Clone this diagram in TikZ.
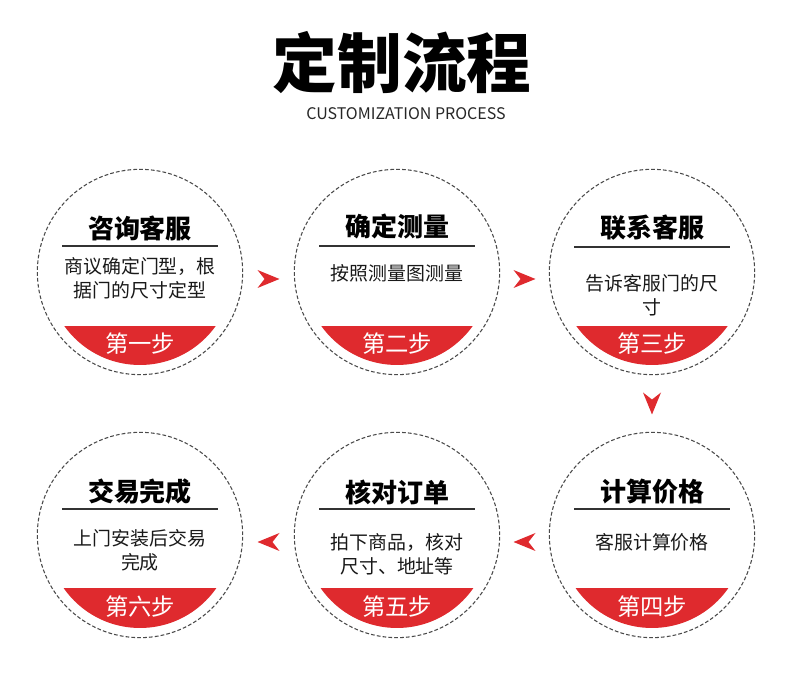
\documentclass[tikz,border=0pt]{standalone}
\usepackage{fontspec}
\setmainfont{Noto Sans CJK SC}
\usetikzlibrary{calc}
\usetikzlibrary{positioning}

\definecolor{stepred}{HTML}{DF2A2E}
\definecolor{ringgray}{HTML}{4A4A4A}

\begin{document}
\begin{tikzpicture}[
    x=0.75pt, y=-0.75pt,
    stepring/.style={circle, draw=ringgray, line width=0.8pt, dash pattern=on 2.8pt off 1.6pt, minimum size=154pt, inner sep=0pt},
    steptitle/.style={font=\fontsize{19.5}{22}\selectfont\bfseries, text=black, inner sep=0pt},
    stepbody/.style={font=\fontsize{14.2}{18}\selectfont, text=black!90, align=center, inner sep=0pt},
    steplabel/.style={font=\fontsize{17.5}{20}\selectfont, text=white, inner sep=0pt},
    rule/.style={line width=0.8pt, black!80},
    band/.style={fill=stepred},
    turnarrow/.pic={\fill[stepred] (11,0) -- (-11,-9) -- (-4,0) -- (-11,9) -- cycle;}
]
    \useasboundingbox (0,0) rectangle (790,691);

    % --- Heading
    \node[font=\fontsize{48.5}{52}\selectfont\bfseries, inner sep=0pt] (Head) at (402,63) {定制流程};
    \node[font=\fontsize{12}{14}\selectfont, text=black!85, inner sep=0pt] (Sub) at (406,114) {CUSTOMIZATION PROCESS};

    % --- Step 1 (Top left)
    \node[stepring] (C1) at (140,272) {};
    \begin{scope}
        \clip (C1.center) circle (69.75pt);
        \fill[band] ($(C1.center)+(-100,54)$) rectangle ($(C1.center)+(100,100)$);
    \end{scope}
    \node[steptitle] (T1) at ($(C1.center)+(0,-44)$) {咨询客服};
    \draw[rule] ($(C1.center)+(-78,-26)$) -- ($(C1.center)+(78,-26)$);
    \node[stepbody] (B1) at ($(C1.center)+(0,6)$) {商议确定门型，根\\据门的尺寸定型};
    \node[steplabel] (S1) at ($(C1.center)+(0,72)$) {第一步};

    % --- Step 2 (Top middle)
    \node[stepring] (C2) at (397,272) {};
    \begin{scope}
        \clip (C2.center) circle (69.75pt);
        \fill[band] ($(C2.center)+(-100,54)$) rectangle ($(C2.center)+(100,100)$);
    \end{scope}
    \node[steptitle] (T2) at ($(C2.center)+(0,-46)$) {确定测量};
    \draw[rule] ($(C2.center)+(-78,-26)$) -- ($(C2.center)+(78,-26)$);
    \node[stepbody] (B2) at ($(C2.center)+(0,1)$) {按照测量图测量};
    \node[steplabel] (S2) at ($(C2.center)+(0,72)$) {第二步};

    % --- Step 3 (Top right)
    \node[stepring] (C3) at (652,272) {};
    \begin{scope}
        \clip (C3.center) circle (69.75pt);
        \fill[band] ($(C3.center)+(-100,54)$) rectangle ($(C3.center)+(100,100)$);
    \end{scope}
    \node[steptitle] (T3) at ($(C3.center)+(0,-44)$) {联系客服};
    \draw[rule] ($(C3.center)+(-78,-25)$) -- ($(C3.center)+(78,-25)$);
    \node[stepbody] (B3) at ($(C3.center)+(0,23)$) {告诉客服门的尺\\寸};
    \node[steplabel] (S3) at ($(C3.center)+(0,72)$) {第三步};

    % --- Step 4 (Bottom right)
    \node[stepring] (C4) at (652,535) {};
    \begin{scope}
        \clip (C4.center) circle (69.75pt);
        \fill[band] ($(C4.center)+(-100,53)$) rectangle ($(C4.center)+(100,100)$);
    \end{scope}
    \node[steptitle] (T4) at ($(C4.center)+(0,-43)$) {计算价格};
    \draw[rule] ($(C4.center)+(-78,-26)$) -- ($(C4.center)+(78,-26)$);
    \node[stepbody] (B4) at ($(C4.center)+(0,7)$) {客服计算价格};
    \node[steplabel] (S4) at ($(C4.center)+(0,72)$) {第四步};

    % --- Step 5 (Bottom middle)
    \node[stepring] (C5) at (397,535) {};
    \begin{scope}
        \clip (C5.center) circle (69.75pt);
        \fill[band] ($(C5.center)+(-100,53)$) rectangle ($(C5.center)+(100,100)$);
    \end{scope}
    \node[steptitle] (T5) at ($(C5.center)+(0,-43)$) {核对订单};
    \draw[rule] ($(C5.center)+(-78,-26)$) -- ($(C5.center)+(78,-26)$);
    \node[stepbody] (B5) at ($(C5.center)+(0,19)$) {拍下商品，核对\\尺寸、地址等};
    \node[steplabel] (S5) at ($(C5.center)+(0,72)$) {第五步};

    % --- Step 6 (Bottom left)
    \node[stepring] (C6) at (140,535) {};
    \begin{scope}
        \clip (C6.center) circle (69.75pt);
        \fill[band] ($(C6.center)+(-100,53)$) rectangle ($(C6.center)+(100,100)$);
    \end{scope}
    \node[steptitle] (T6) at ($(C6.center)+(0,-43)$) {交易完成};
    \draw[rule] ($(C6.center)+(-78,-26)$) -- ($(C6.center)+(78,-26)$);
    \node[stepbody] (B6) at ($(C6.center)+(0,15)$) {上门安装后交易\\完成};
    \node[steplabel] (S6) at ($(C6.center)+(0,72)$) {第六步};

    % --- Arrows between steps
    \pic at ($(C1.east)!0.5!(C2.west)+(0,7)$) {turnarrow};
    \pic at ($(C2.east)!0.5!(C3.west)+(0,7)$) {turnarrow};
    \pic[rotate=-90] at ($(C3.south)!0.5!(C4.north)$) {turnarrow};
    \pic[rotate=180] at ($(C5.east)!0.5!(C4.west)+(0,7)$) {turnarrow};
    \pic[rotate=180] at ($(C6.east)!0.5!(C5.west)+(0,7)$) {turnarrow};

\end{tikzpicture}
\end{document}
